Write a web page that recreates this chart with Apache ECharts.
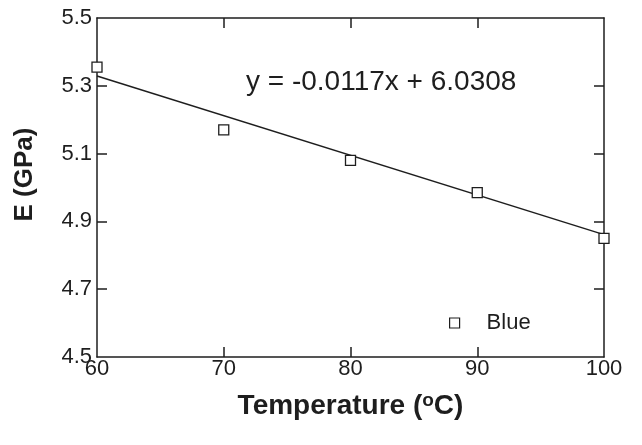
<!DOCTYPE html>
<html>
<head>
<meta charset="utf-8">
<script src="https://cdn.jsdelivr.net/npm/echarts@6/dist/echarts.min.js"></script>
<style>html,body{margin:0;padding:0;background:#fff;}#c{width:642px;height:445px;}</style>
</head>
<body>
<div id="c"></div>
<script>
// Data
const temperature = [60, 70, 80, 90, 100];
const modulus = [5.355, 5.17, 5.08, 4.985, 4.85];
const trendX = [60, 100];
const trendY = [5.329, 4.861];
const yTickValues = [4.5, 4.7, 4.9, 5.1, 5.3, 5.5];
const yInnerTicks = [4.7, 4.9, 5.1, 5.3];
const xTickValues = [60, 70, 80, 90, 100];
const xInnerTicks = [70, 80, 90];
const seriesName = 'Blue';
const equationText = 'y = -0.0117x + 6.0308';

const FONT = '"Liberation Sans", Arial, sans-serif';
const INK = '#1e1e1e';

const chart = echarts.init(document.getElementById('c'), null, {renderer: 'canvas'});
const lineStyle = {color: INK, width: 1.5};
chart.setOption({
  animation: false,
  backgroundColor: '#fff',
  textStyle: {fontFamily: FONT, color: INK},
  grid: {left: 97, right: 38, top: 18, bottom: 88},
  legend: {
    data: [seriesName],
    left: 444, top: 307,
    icon: 'rect', itemWidth: 10, itemHeight: 10,
    itemStyle: {color: '#fff', borderColor: INK, borderWidth: 1.2},
    textStyle: {fontFamily: FONT, fontSize: 22, color: INK, padding: [0, 0, 0, 22]}
  },
  xAxis: [{
    type: 'value', min: 60, max: 100, interval: 10,
    name: '{a|Temperature (}{s|o}{a|C)}',
    nameLocation: 'middle', nameGap: 34,
    nameTextStyle: {
      rich: {
        a: {fontFamily: FONT, fontSize: 28, fontWeight: 'bold', color: INK},
        s: {fontFamily: FONT, fontSize: 19, fontWeight: 'bold', color: INK, verticalAlign: 'top', padding: [0, 0, 12, 0]}
      }
    },
    axisLine: {show: true, onZero: false, lineStyle: lineStyle},
    axisTick: {show: true, inside: true, length: 10, lineStyle: lineStyle, customValues: xInnerTicks},
    axisLabel: {fontFamily: FONT, fontSize: 22, color: INK, margin: 1, customValues: xTickValues},
    splitLine: {show: false}
  }, {
    type: 'value', position: 'top', min: 60, max: 100, interval: 10,
    axisLine: {show: true, onZero: false, lineStyle: lineStyle},
    axisTick: {show: true, inside: true, length: 10, lineStyle: lineStyle, customValues: xInnerTicks},
    axisLabel: {show: false},
    splitLine: {show: false}
  }],
  yAxis: [{
    type: 'value', min: 4.5, max: 5.5, interval: 0.1,
    name: 'E (GPa)',
    nameLocation: 'middle', nameGap: 59,
    nameTextStyle: {fontFamily: FONT, fontSize: 26, fontWeight: 'bold', color: INK, padding: [0, 0, 0, 26]},
    axisLine: {show: true, onZero: false, lineStyle: lineStyle},
    axisTick: {show: true, inside: true, length: 10, lineStyle: lineStyle, customValues: yInnerTicks},
    axisLabel: {fontFamily: FONT, fontSize: 22, color: INK, margin: 5, customValues: yTickValues,
      formatter: v => v.toFixed(1)},
    splitLine: {show: false}
  }, {
    type: 'value', position: 'right', min: 4.5, max: 5.5, interval: 0.1,
    axisLine: {show: true, onZero: false, lineStyle: lineStyle},
    axisTick: {show: true, inside: true, length: 10, lineStyle: lineStyle, customValues: yInnerTicks},
    axisLabel: {show: false},
    splitLine: {show: false}
  }],
  series: [{
    name: 'trend', type: 'line',
    data: trendX.map((x, i) => [x, trendY[i]]),
    showSymbol: false, symbol: 'none',
    lineStyle: {color: INK, width: 1.5},
    z: 2
  }, {
    name: seriesName, type: 'scatter',
    data: temperature.map((x, i) => [x, modulus[i]]),
    symbol: 'rect', symbolSize: 10,
    itemStyle: {color: '#fff', borderColor: INK, borderWidth: 1.3, opacity: 1},
    z: 3
  }],
  graphic: [{
    type: 'text', left: 246, top: 68,
    style: {text: equationText, font: '28px ' + FONT, fill: INK}
  }]
});
</script>
</body>
</html>
